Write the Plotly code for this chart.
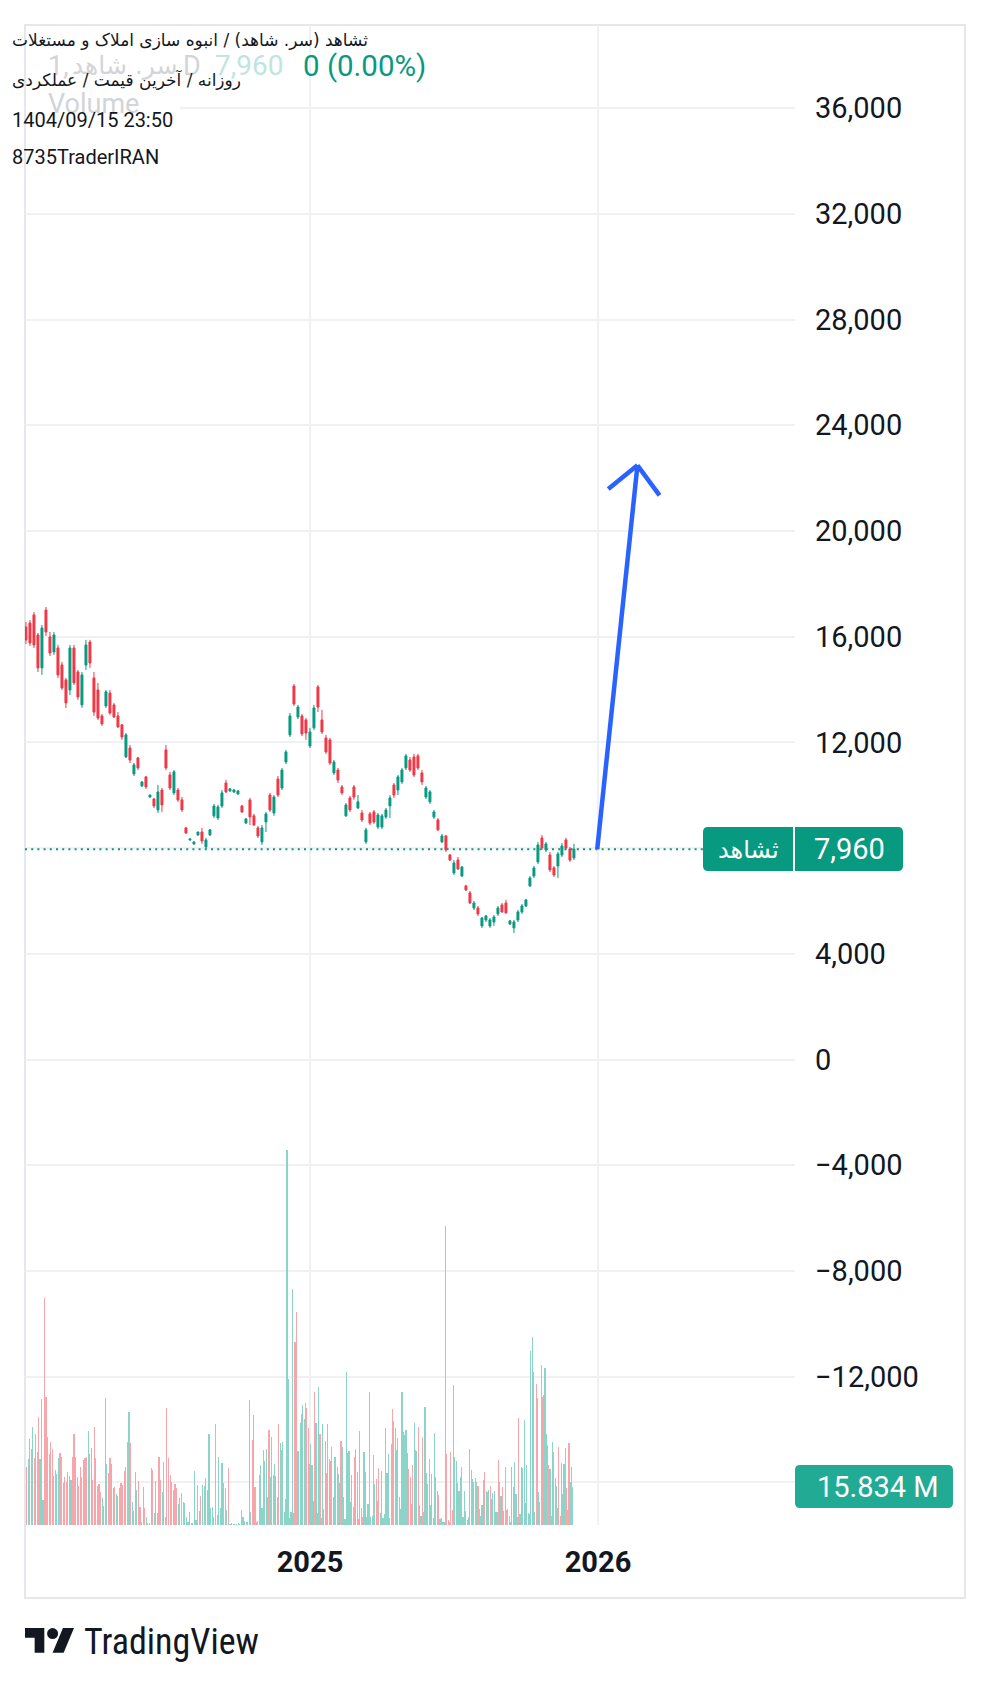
import numpy as np
import pandas as pd
import plotly.graph_objects as go

W, H = 990, 1686

# ---------------- data ----------------
open_ = [16370,16520,16825,16065,14820,17010,15990,15425,15575,14930,
14365,13985,15575,14665,13420,14930,15800,14440,13985,13000,
13380,13870,13420,13000,12665,11450,11790,10805,11415,10350,
10695,9935,9860,9445,10200,11715,10770,10090,10200,9825,
8765,8310,8160,8500,8610,8045,8500,9220,9140,9595,
10465,10165,10125,10050,9595,8950,9825,9220,8765,8235,
8990,10010,9330,10615,10275,11260,12285,14135,12965,13000,
12850,11865,12550,14100,12850,12170,12095,10845,10955,10315,
9220,9900,10315,9520,9330,8235,9295,9370,8800,8800,
9180,9595,10390,10200,10505,11035,11335,11450,11490,10845,
9935,9750,9180,9065,8235,8460,7740,7060,7550,6945,
6570,6305,5735,5735,5055,5280,5055,5205,5510,5850,
5925,5130,4980,5280,5585,5810,6570,6945,7475,8385,
7930,7740,7250,7325,7740,8310,7970,7630]
high = [16560,16630,16935,16140,16445,17125,16180,16180,15690,15045,
14440,15690,15690,14740,14665,15880,15880,14665,14250,13075,
13985,13985,13495,13150,12700,12355,11905,11220,11450,10540,
10730,10010,9900,10390,10275,11905,10885,10955,10275,9935,
8800,8350,8235,8610,8765,8385,8720,9670,9635,10200,
10580,10275,10240,10200,9635,9140,9900,9295,8840,8875,
9370,10090,10010,10730,11035,11715,13115,14210,13420,13075,
12925,12550,13420,14175,13230,12285,12170,11335,11035,10390,
9710,9975,10390,10010,9445,8765,9370,9445,9330,9295,
9520,10010,10465,10770,11035,11565,11450,11565,11565,10955,
10350,10200,9445,9140,8535,8500,7780,7550,7665,7325,
6610,6380,6000,5810,5395,5470,5355,5470,5810,5925,
6040,5280,5280,5660,5885,6080,6945,7325,8235,8500,
8235,7855,7325,7855,8195,8385,8045,8160]
low = [15725,15650,15575,14665,14555,16030,15270,15310,14440,13985,
13305,13795,14175,13610,13305,14740,14820,13000,12850,12625,
13305,13040,12925,12550,12095,11415,11220,10730,10955,10315,
10240,9900,9520,9330,9370,10955,10200,10010,9750,9370,
8535,8270,8120,8460,8160,7970,8460,9140,9065,9520,
10090,10125,10090,10010,9330,8915,8875,8840,8385,8120,
8610,9370,9220,9935,10200,11185,12205,13380,12885,12245,
12095,11790,12470,13150,12320,11565,11150,10770,10465,10010,
9180,9370,9825,9480,8990,8160,8875,8915,8725,8725,
9105,9140,9900,10010,10430,10955,10885,10695,10955,10390,
9860,9670,9105,8650,8195,7855,7515,6985,7175,6910,
6380,5885,5660,5435,4980,5205,4980,5055,5435,5550,
5510,5095,4790,5205,5510,5770,6530,6870,7400,7930,
7855,7100,6910,6870,7665,7930,7475,7550]
close = [15880,15765,15690,14820,16330,16180,15385,16065,14555,14060,
13495,15575,14250,13720,14555,15690,15005,13150,12925,12700,
13910,13115,12965,12585,12205,12285,11335,11150,11035,10505,
10315,10010,9595,10125,9635,11035,10275,10885,9825,9445,
8575,8345,8235,8610,8270,8310,8690,9595,9560,10090,
10125,10240,10200,10165,9370,9105,9180,8875,8460,8765,
9295,9445,9935,10010,10955,11640,13000,13455,13340,12320,
12355,12395,13305,13340,12395,11640,11220,11260,10580,10090,
9635,9445,9935,9750,9065,8690,8950,8990,9255,9220,
9445,9900,10010,10695,10955,11490,10955,10770,11035,10505,
10275,10125,9370,8690,8460,7930,7550,7440,7210,7285,
6415,5925,5925,5510,5355,5435,5280,5395,5735,5585,
5550,5245,5205,5585,5810,6040,6870,7250,8120,8005,
8160,7175,6985,7780,8080,8005,7550,7960]
candle_first, candle_last = "2024-01-07", "2025-12-01 12:00"

# volume in millions, and bar direction (g = up, r = down)
vol_m = [24.3,27.4,35.7,31.5,41.0,28.1,37.8,30.6,45.1,27.4,
52.4,10.4,94.7,53.2,36.8,29.4,34.4,31.5,20.6,22.8,
21.1,27.8,29.9,28.2,17.4,19.9,17.8,21.9,20.3,18.6,
28.5,37.8,28.5,20.1,16.4,24.0,20.1,26.9,28.1,28.5,
39.2,29.4,32.2,18.8,40.7,27.8,16.4,16.9,13.9,11.1,
7.9,52.8,25.3,21.5,27.8,25.3,15.3,15.7,12.8,12.1,
15.3,17.6,16.7,22.6,24.3,34.4,46.9,34.0,9.4,5.8,
21.9,14.6,18.3,7.6,1.4,16.0,6.9,3.2,1.0,1.0,
23.6,22.9,4.9,18.3,4.9,28.5,18.8,13.6,26.1,3.5,
48.6,27.8,20.8,18.1,14.6,16.9,15.3,8.8,11.1,13.2,
9.7,9.0,3.5,1.1,5.6,1.0,0.7,22.5,1.9,16.7,
5.8,11.9,16.7,16.4,19.4,14.6,37.8,6.9,7.6,3.3,
41.9,4.2,28.5,7.2,25.7,17.4,15.6,6.3,23.9,0.3,
1.0,0.4,0.4,0.4,1.0,0.4,6.3,3.2,1.7,1.4,
1.1,52.1,5.6,35.4,45.8,16.0,1.4,1.7,20.8,25.0,
6.9,31.3,26.5,31.5,11.8,39.6,19.9,36.5,20.8,25.3,
20.4,11.5,41.9,34.0,31.3,34.7,5.6,10.7,156.1,60.7,
2.8,5.3,98.2,4.9,76.1,88.6,30.8,30.8,42.4,46.1,
50.0,44.0,50.7,48.6,40.6,25.3,33.6,24.9,10.0,55.6,
42.6,4.9,57.4,37.8,2.8,41.9,6.7,35.0,21.5,42.2,
27.4,26.7,32.6,11.8,28.5,28.5,24.0,21.1,17.4,35.1,
32.4,11.8,2.5,63.6,29.9,30.8,9.4,20.8,7.6,28.5,
31.5,22.2,2.5,39.2,7.2,3.2,30.3,21.9,3.2,8.6,
55.3,3.2,3.9,29.2,16.9,19.0,10.0,23.6,5.1,22.5,
2.8,4.6,40.3,21.5,29.4,2.8,33.6,48.3,43.5,40.6,
31.3,36.1,11.8,6.5,55.3,38.9,37.5,39.6,30.1,23.2,
19.9,8.6,25.0,42.4,31.3,30.8,40.7,8.3,3.8,36.8,
5.3,49.3,21.5,16.9,27.4,8.3,21.1,2.8,38.2,20.1,
14.3,12.5,2.5,2.8,1.4,1.4,124.5,29.4,2.1,1.1,
30.6,6.3,58.3,28.5,26.8,17.4,14.2,20.1,24.0,3.5,
14.3,6.0,2.1,3.5,31.5,22.9,19.2,17.8,19.7,17.8,
16.3,6.5,3.9,8.2,18.8,21.9,14.2,13.9,14.6,16.4,
10.8,13.2,14.2,5.6,5.3,27.1,17.8,12.1,16.0,5.8,
24.0,6.3,6.7,3.8,1.1,24.3,16.0,26.1,12.8,3.2,
44.4,4.4,24.3,23.9,43.6,9.0,25.0,4.9,4.4,72.5,
78.5,63.6,5.6,58.6,53.1,13.9,9.7,66.7,53.3,54.2,
65.3,37.8,33.3,25.0,23.2,3.8,34.4,30.3,19.4,16.3,
6.9,32.6,3.9,25.7,12.8,25.3,32.2,15.6,6.3,34.0,
17.8,24.3,15.834]
vol_dir = ("rggggrrrrg" "ggrrrgrrrg" "ggrrrrrrgg" "rrgrrrrgrr" "gggrrggrrg"
           "gggrrggrgr" "rrrrrrgrgg" "ggrrggrggg" "grgggrrggg" "rrrrgrrggr"
           "rggggggggr" "grgggggggr" "rrgggrrgrg" "gggggggggg" "gggrgrrgrg"
           "grgggrgrgg" "ggrgrggggg" "ggggrrgggg" "ggrrrrgggr" "gggrrgggrg"
           "grrggrgggr" "ggggggggrr" "ggrgrrgggg" "rggrgrrrgg" "ggrggrrrrg"
           "grgggggggr" "rgrgrgrrgr" "rggrgggggr" "grgggggrrr" "rrrgggggrg"
           "gggggrggrg" "rrgggrgrgr" "gggggrggrg" "rrrggggggr" "rggggggggg"
           "gggrrggrrg" "ggrrgrgrrg" "grrgggrrrr" "grg")
# trading-day anchors of the volume bars (bar index -> days from 2025-01-01)
vol_anchor_idx = [0, 12, 51, 90, 141, 168, 213, 286, 350, 382]
vol_anchor_day = [-358.9, -336.6, -259.5, -181.4, -76.7, -29.1, 46.0, 171.6, 281.7, 333.1]

y_tickvals = list(range(-16000, 36001, 4000))
x_tickvals = ["2025-01-01", "2026-01-01"]
x_ticktext = ["2025", "2026"]

last_price = 7960
symbol = "ثشاهد"
last_volume_text = "15.834 M"
title_line = "ثشاهد (سر. شاهد) / انبوه سازی املاک و مستغلات"
sub_line = "روزانه / آخرین قیمت / عملکردی"
date_line = "1404/09/15 23:50"
author_line = "8735TraderIRAN"
legend_name = "سر. شاهد"
legend_change = "0 (0.00%)"

# projected move drawn on chart (date, price)
arrow_x = ["2025-12-31", "2026-02-20"]
arrow_y = [7960, 22485]
head_x = ["2026-01-14", "2026-02-20", "2026-03-20"]
head_y = [21588, 22485, 21346]

# ---------------- helpers ----------------
def px(x):
    return x / W

def py(y):
    return 1 - y / H

UP, DN = "#089981", "#f23645"
VUP, VDN = "#8dd4c8", "#f7a6ac"
TXT = "#131722"
GRID = "#f0f1f5"
FADE = "#d3d4d8"
ARABIC = "DejaVu Sans, Roboto, sans-serif"

n = min(len(open_), len(high), len(low), len(close))
dates = pd.date_range(candle_first, candle_last, periods=n)

nv = min(len(vol_m), len(vol_dir))
vol_days = np.interp(np.arange(nv), vol_anchor_idx, vol_anchor_day)
vol_dates = pd.Timestamp("2025-01-01") + pd.to_timedelta(vol_days, unit="D")
vol_colors = [VUP if c == "g" else VDN for c in vol_dir[:nv]]

fig = go.Figure()
fig.add_trace(go.Bar(
    x=vol_dates, y=vol_m[:nv], marker=dict(color=vol_colors, line=dict(width=0)),
    width=1.45 * 86400000, yaxis="y2", hoverinfo="skip"))
fig.add_trace(go.Candlestick(
    x=dates, open=open_[:n], high=high[:n], low=low[:n], close=close[:n],
    increasing=dict(line=dict(color=UP, width=1), fillcolor=UP),
    decreasing=dict(line=dict(color=DN, width=1), fillcolor=DN),
    whiskerwidth=0, hoverinfo="skip"))

def fmt(v):
    if v in (8000, -16000):
        return ""
    s = f"{abs(v):,}"
    return ("\u2212" + s) if v < 0 else s

fig.update_layout(
    width=W, height=H, autosize=False,
    margin=dict(l=0, r=0, t=0, b=0, pad=0),
    paper_bgcolor="white", plot_bgcolor="white",
    showlegend=False, hovermode=False, dragmode=False,
    font=dict(family="Roboto, DejaVu Sans, sans-serif", color=TXT),
    xaxis=dict(
        type="date", domain=[px(25), px(795)],
        range=["2024-01-05 19:00", "2026-09-07 16:00"],
        tickvals=x_tickvals, ticktext=x_ticktext,
        tickfont=dict(size=29, color=TXT, weight=700, family="Roboto"),
        ticks="", ticklabelstandoff=17,
        showgrid=True, gridcolor=GRID, gridwidth=2,
        zeroline=False, showline=False, rangeslider=dict(visible=False),
        fixedrange=True),
    yaxis=dict(
        domain=[py(1525), py(25)], range=[-17616, 39149],
        side="right", tickvals=y_tickvals, ticktext=[fmt(v) for v in y_tickvals],
        tickfont=dict(size=29, color=TXT, family="Roboto"),
        ticks="", ticklabelstandoff=19,
        showgrid=True, gridcolor=GRID, gridwidth=2,
        zeroline=False, showline=False, fixedrange=True),
    yaxis2=dict(overlaying="y", range=[0, 625], visible=False,
                showgrid=False, fixedrange=True),
    bargap=0,
)

def rrect(x0, y0, x1, y1, r):
    pts = [("M", x0 + r, y0), ("L", x1 - r, y0), ("Q", x1, y0, x1, y0 + r),
           ("L", x1, y1 - r), ("Q", x1, y1, x1 - r, y1), ("L", x0 + r, y1),
           ("Q", x0, y1, x0, y1 - r), ("L", x0, y0 + r), ("Q", x0, y0, x0 + r, y0)]
    out = []
    for p in pts:
        cmd, coords = p[0], p[1:]
        cs = []
        for i in range(0, len(coords), 2):
            cs.append(f"{px(coords[i]):.6f},{py(coords[i+1]):.6f}")
        out.append(cmd + " " + " ".join(cs))
    return " ".join(out) + " Z"

def poly(points, s, ox, oy):
    cs = [f"{px(ox + s*u):.6f},{py(oy + s*v):.6f}" for u, v in points]
    return "M " + " L ".join(cs) + " Z"

shapes = []
# outer frame
shapes.append(dict(type="rect", xref="paper", yref="paper",
                   x0=px(25), x1=px(965), y0=py(1598), y1=py(25),
                   line=dict(color="#e6e7ec", width=2), layer="below"))
# hide part of top gridline behind legend
shapes.append(dict(type="rect", xref="paper", yref="paper",
                   x0=px(26), x1=px(180), y0=py(116), y1=py(100),
                   fillcolor="white", line=dict(width=0), layer="above"))
# last price line
shapes.append(dict(type="line", xref="paper", yref="y",
                   x0=px(25), x1=px(703), y0=last_price, y1=last_price,
                   line=dict(color=UP, width=2, dash="2px,4.2px"), layer="above"))
# arrow
for (xa, ya, xb, yb) in [(arrow_x[0], arrow_y[0], arrow_x[1], arrow_y[1]),
                         (head_x[0], head_y[0], head_x[1], head_y[1]),
                         (head_x[1], head_y[1], head_x[2], head_y[2])]:
    shapes.append(dict(type="line", xref="x", yref="y", x0=xa, y0=ya, x1=xb, y1=yb,
                       line=dict(color="#2962ff", width=4.5), layer="above"))
# price label
shapes.append(dict(type="path", xref="paper", yref="paper", path=rrect(703, 827, 903, 871, 5),
                   fillcolor=UP, line=dict(width=0), layer="above"))
shapes.append(dict(type="line", xref="paper", yref="paper", x0=px(794), x1=px(794),
                   y0=py(827), y1=py(871), line=dict(color="white", width=2), layer="above"))
# volume label
shapes.append(dict(type="path", xref="paper", yref="paper", path=rrect(795, 1465, 953, 1508, 5),
                   fillcolor="#22ab94", line=dict(width=0), layer="above"))
# TradingView logo
s, ox, oy = 1.38, 25, 1622.5
shapes.append(dict(type="path", xref="paper", yref="paper",
                   path=poly([(0, 4), (14, 4), (14, 22), (7, 22), (7, 11), (0, 11)], s, ox, oy),
                   fillcolor=TXT, line=dict(width=0), layer="above"))
shapes.append(dict(type="path", xref="paper", yref="paper",
                   path=poly([(20, 22), (27.5, 4), (35.5, 4), (28, 22)], s, ox, oy),
                   fillcolor=TXT, line=dict(width=0), layer="above"))
shapes.append(dict(type="circle", xref="paper", yref="paper",
                   x0=px(ox + s*16), x1=px(ox + s*24), y0=py(oy + s*12), y1=py(oy + s*4),
                   fillcolor=TXT, line=dict(width=0), layer="above"))
fig.update_layout(shapes=shapes)

def ann(text, x, y, size, color, xanchor="left", family="Roboto, DejaVu Sans, sans-serif", weight=None):
    f = dict(size=size, color=color, family=family)
    if weight:
        f["weight"] = weight
    return dict(text=text, x=px(x), y=py(y), xref="paper", yref="paper",
                xanchor=xanchor, yanchor="middle", showarrow=False, font=f)

annotations = [
    ann("1,", 46, 66, 27, FADE),
    ann(legend_name, 70, 66, 25, FADE, family=ARABIC),
    ann("D", 181, 66, 27, FADE),
    ann(f"{last_price:,}", 213, 66, 28, "#bfe5de"),
    ann(legend_change, 301, 66, 29.5, UP),
    ann("Volume", 46, 104, 27, FADE),
    ann(title_line, 10, 40, 17, TXT, family=ARABIC),
    ann(sub_line, 10, 80, 17, TXT, family=ARABIC),
    ann(date_line, 10, 120, 20, TXT),
    ann(author_line, 10, 157, 20, TXT),
    ann(symbol, 748, 850, 24, "white", xanchor="center", family=ARABIC),
    ann(f"{last_price:,}", 849, 849, 29, "white", xanchor="center"),
    ann(last_volume_text, 878, 1487, 29, "white", xanchor="center"),
    ann("TradingView", 82, 1642, 36, TXT,
        family="Roboto Condensed, Liberation Sans Narrow, DejaVu Sans Condensed, Roboto"),
]
fig.update_layout(annotations=annotations)

fig.write_html("out.html",
               config={"displayModeBar": False, "staticPlot": True},
               post_script="document.body.style.margin='0';document.body.style.padding='0';")
